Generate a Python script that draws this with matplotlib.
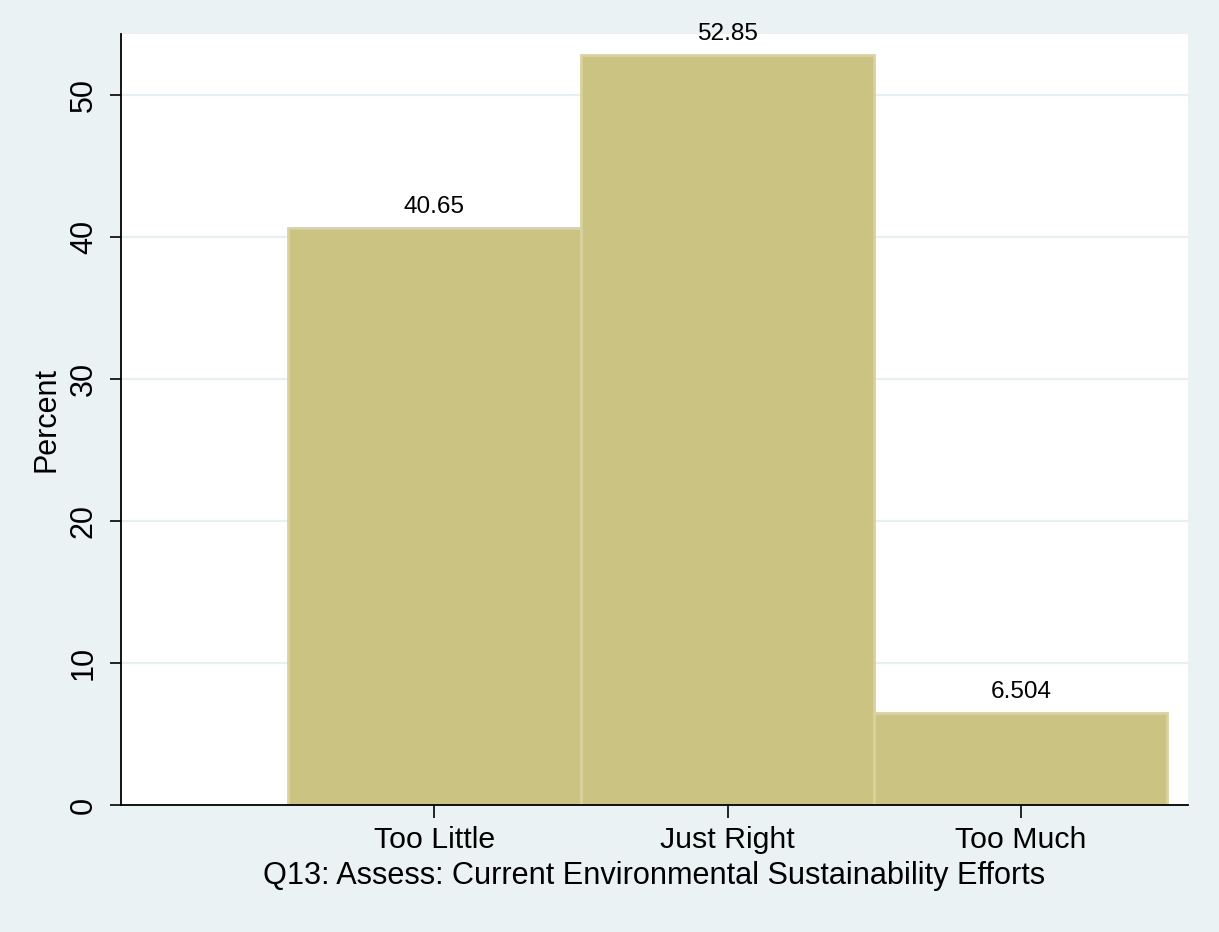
import matplotlib
matplotlib.use("Agg")
import matplotlib.pyplot as plt

categories = ["Too Little", "Just Right", "Too Much"]
percent = [40.65, 52.85, 6.504]
value_labels = ["40.65", "52.85", "6.504"]
yticks = [0, 10, 20, 30, 40, 50]

plt.rcParams['font.family'] = ['Liberation Sans', 'DejaVu Sans']

bg = "#EAF2F3"
fig = plt.figure(figsize=(12.19, 9.32), dpi=100, facecolor=bg)
ax = fig.add_axes([121/1219, 1-805/932, (1188-121)/1219, (805-34)/932])
ax.set_facecolor("white")

xs = list(range(1, len(categories) + 1))
ax.bar(xs, percent, width=1.0, color="#CBC382", edgecolor="#D9D29F", linewidth=2, zorder=2)
for x, v, lab in zip(xs, percent, value_labels):
    ax.text(x, v + 1.05, lab, ha="center", va="baseline", fontsize=17.6, clip_on=False, zorder=3)

ax.set_xlim(-0.068, 3.57)
ax.set_ylim(0, 54.3)
ax.set_yticks(yticks)
ax.set_yticklabels([str(t) for t in yticks], rotation=90, va="center", fontsize=22)
ax.set_xticks(xs)
ax.set_xticklabels(categories, fontsize=21.8)
ax.tick_params(axis="y", length=8, width=1.2, pad=8)
ax.tick_params(axis="x", length=9, width=1.2, pad=6)
ax.grid(axis="y", color="#E6EFF1", linewidth=1.6, zorder=0)
ax.set_axisbelow(True)
for s in ["top", "right"]:
    ax.spines[s].set_visible(False)
for s in ["left", "bottom"]:
    ax.spines[s].set_linewidth(1.3)
    ax.spines[s].set_zorder(4)

ax.set_ylabel("Percent", fontsize=22, labelpad=5)
ax.set_xlabel("Q13: Assess: Current Environmental Sustainability Efforts", fontsize=22.1, labelpad=5)

fig.savefig("out.png", dpi=100, facecolor=bg)
